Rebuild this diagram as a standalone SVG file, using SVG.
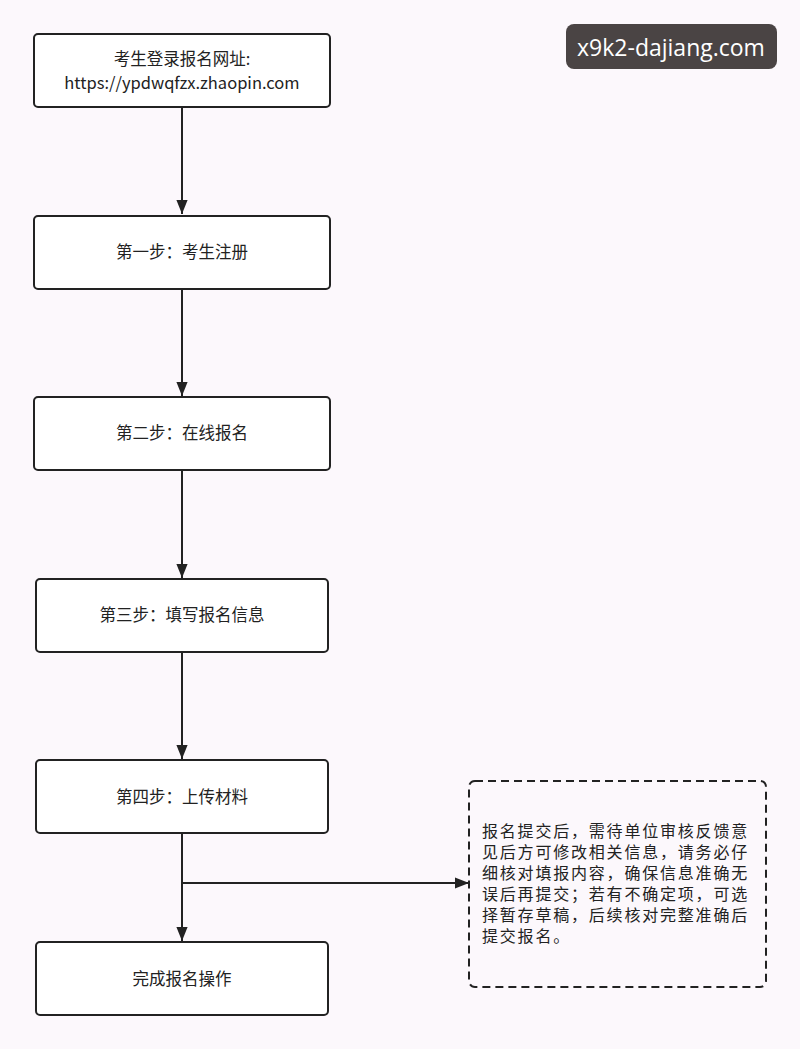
<svg xmlns="http://www.w3.org/2000/svg" width="800" height="1049" viewBox="0 0 800 1049">
<style>
.n{fill:#fff;stroke:#222;stroke-width:2}
.t{font-family:"Noto Sans CJK SC",sans-serif;font-size:16.5px;fill:#222;text-anchor:middle}
.c{fill:none;stroke:#222;stroke-width:2}
</style>
<defs><marker id="b" viewBox="0 0 10 10" refX="10" refY="5" markerWidth="14" markerHeight="14" orient="auto" markerUnits="userSpaceOnUse"><path d="M0,1L10,5L0,9z" fill="#222"/></marker></defs>
<rect width="800" height="1049" fill="#fcf8fc"/>
<g id="watermark"><rect x="566" y="24" width="211" height="45" rx="8" fill="#4a4444"/><text x="671" y="56" font-family="'Open Sans',sans-serif" font-size="23" fill="#fff" text-anchor="middle">x9k2-dajiang.com</text></g>
<g id="connectors">
<path class="c" d="M182,107V214" marker-end="url(#b)"/>
<path class="c" d="M182,289V396" marker-end="url(#b)"/>
<path class="c" d="M182,470V578" marker-end="url(#b)"/>
<path class="c" d="M182,652V759" marker-end="url(#b)"/>
<path class="c" d="M182,833V941" marker-end="url(#b)"/>
<path class="c" d="M182,883H469" marker-end="url(#b)"/>
</g>
<g id="n1"><rect class="n" x="34" y="34" width="296" height="73" rx="4"/><text class="t" x="182" y="65">考生登录报名网址:</text><text class="t" x="182" y="89">https://ypdwqfzx.zhaopin.com</text></g>
<g id="n2"><rect class="n" x="34" y="216" width="296" height="73" rx="4"/><text class="t" x="182" y="258">第一步：考生注册</text></g>
<g id="n3"><rect class="n" x="34" y="397" width="296" height="73" rx="4"/><text class="t" x="182" y="439">第二步：在线报名</text></g>
<g id="n4"><rect class="n" x="36" y="579" width="292" height="73" rx="4"/><text class="t" x="182" y="621">第三步：填写报名信息</text></g>
<g id="n5"><rect class="n" x="36" y="760" width="292" height="73" rx="4"/><text class="t" x="182" y="803">第四步：上传材料</text></g>
<g id="n6"><rect class="n" x="36" y="942" width="292" height="73" rx="4"/><text class="t" x="182" y="985">完成报名操作</text></g>
<g id="note"><rect x="469" y="781" width="297" height="206" rx="6" fill="#fcf8fc" stroke="#222" stroke-width="2" stroke-dasharray="8,5"/>
<text class="t" style="text-anchor:start;font-size:16px;letter-spacing:1.8px"><tspan x="482" y="837">报名提交后，需待单位审核反馈意</tspan><tspan x="482" y="858">见后方可修改相关信息，请务必仔</tspan><tspan x="482" y="879">细核对填报内容，确保信息准确无</tspan><tspan x="482" y="900">误后再提交；若有不确定项，可选</tspan><tspan x="482" y="921">择暂存草稿，后续核对完整准确后</tspan><tspan x="482" y="942">提交报名。</tspan></text></g>
</svg>
